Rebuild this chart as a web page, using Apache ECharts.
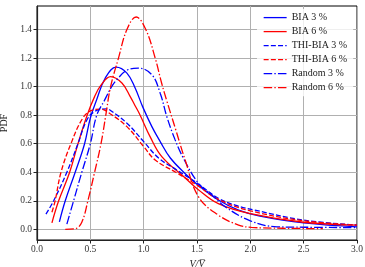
<!DOCTYPE html>
<html>
<head>
<meta charset="utf-8">
<script src="https://cdn.jsdelivr.net/npm/echarts@6/dist/echarts.min.js"></script>
<style>
	html, body { margin: 0; padding: 0; background: #fff; }
	#pdfChart { width: 365px; height: 267px; }
</style>
</head>
<body>
<div id="pdfChart"></div>
<script>
// 数据
var bia3 = [[0.21, 0.053], [0.265, 0.2], [0.358, 0.4], [0.446, 0.6], [0.5, 0.78], [0.56, 0.91], [0.64, 1.06], [0.742, 1.137], [0.843, 1.095], [0.92, 0.99], [0.99, 0.86], [1.077, 0.72], [1.155, 0.615], [1.25, 0.5], [1.39, 0.39], [1.51, 0.31], [1.7, 0.206], [1.89, 0.135], [2.09, 0.093], [2.5, 0.045], [3.0, 0.018]];
var bia6 = [[0.14, 0.046], [0.203, 0.2], [0.306, 0.4], [0.384, 0.6], [0.47, 0.8], [0.54, 0.93], [0.6, 1.01], [0.69, 1.07], [0.796, 1.025], [0.874, 0.93], [0.917, 0.87], [0.967, 0.8], [1.06, 0.65], [1.17, 0.51], [1.39, 0.36], [1.51, 0.28], [1.7, 0.18], [2.0, 0.11], [2.5, 0.05], [3.0, 0.03]];
var thi3 = [[0.084, 0.107], [0.156, 0.2], [0.28, 0.4], [0.384, 0.6], [0.47, 0.77], [0.55, 0.83], [0.655, 0.844], [0.686, 0.835], [0.843, 0.744], [1.0, 0.615], [1.14, 0.5], [1.31, 0.416], [1.5, 0.325], [1.7, 0.218], [1.857, 0.17], [2.04, 0.135], [2.5, 0.065], [3.0, 0.03]];
var thi6 = [[0.14, 0.12], [0.17, 0.2], [0.225, 0.4], [0.318, 0.6], [0.43, 0.78], [0.52, 0.835], [0.6, 0.842], [0.686, 0.81], [0.843, 0.72], [1.0, 0.58], [1.108, 0.486], [1.3, 0.4], [1.5, 0.31], [1.7, 0.21], [2.0, 0.13], [2.5, 0.06], [3.0, 0.03]];
var rnd3 = [[0.28, 0.037], [0.343, 0.2], [0.42, 0.4], [0.5, 0.6], [0.56, 0.8], [0.63, 0.9], [0.7, 1.0], [0.75, 1.05], [0.843, 1.115], [0.95, 1.13], [1.077, 1.083], [1.155, 0.954], [1.217, 0.79], [1.295, 0.627], [1.373, 0.498], [1.513, 0.323], [1.64, 0.24], [1.763, 0.159], [2.0, 0.06], [2.25, 0.018], [2.5, 0.015], [3.0, 0.012]];
var rnd6 = [[0.265, 0.0], [0.36, 0.005], [0.42, 0.05], [0.477, 0.2], [0.54, 0.4], [0.6, 0.6], [0.645, 0.8], [0.69, 1.0], [0.764, 1.2], [0.843, 1.4], [0.93, 1.488], [1.02, 1.4], [1.108, 1.2], [1.17, 1.02], [1.217, 0.9], [1.3, 0.7], [1.389, 0.486], [1.513, 0.229], [1.7, 0.1], [1.89, 0.03], [2.01, 0.014], [2.3, 0.008], [2.68, 0.005]];

var seriesNames = ['BIA 3 %', 'BIA 6 %', 'THI-BIA 3 %', 'THI-BIA 6 %', 'Random 3 %', 'Random 6 %'];
var yTicks = [0.0, 0.2, 0.4, 0.6, 0.8, 1.0, 1.2, 1.4];
var xTicks = [0.0, 0.5, 1.0, 1.5, 2.0, 2.5, 3.0];

var BLUE = '#0000ff';
var RED = '#ff0000';
var DASH = [5, 2.2];
var DASHDOT = [8.5, 2.2, 1.4, 2.2];
var FONT = '"Liberation Serif", "DejaVu Serif", serif';

function makeLine(name, data, color, type) {
	return {
		name: name,
		type: 'line',
		data: data,
		smooth: 0.4,
		symbol: 'none',
		silent: true,
		lineStyle: {
			color: color,
			width: 1.3,
			type: type
		},
		itemStyle: {
			color: color
		}
	};
}

function drawChart() {
	var chart = echarts.init(document.getElementById('pdfChart'), null, { renderer: 'canvas' });
	var option = {
		animation: false,
		backgroundColor: '#fff',
		textStyle: { fontFamily: FONT },
		grid: {
			left: 37,
			right: 8,
			top: 6,
			bottom: 27,
			show: true,
			borderColor: '#000',
			borderWidth: 1,
			outerBoundsMode: 'none',
			containLabel: false
		},
		legend: {
			orient: 'vertical',
			left: 257,
			top: 9,
			padding: [3, 6, 3, 6],
			itemWidth: 23,
			itemHeight: 14,
			itemGap: 2.8,
			backgroundColor: 'rgba(255,255,255,0.8)',
			itemStyle: { opacity: 0 },
			lineStyle: { width: 1.3 },
			textStyle: { fontFamily: FONT, fontSize: 10, color: '#222' },
			data: seriesNames
		},
		xAxis: {
			type: 'value',
			min: 0,
			max: 3,
			interval: 0.5,
			name: 'V/V\u0305',
			nameLocation: 'middle',
			nameGap: 14,
			nameTextStyle: { fontFamily: FONT, fontSize: 10, fontStyle: 'italic', color: '#222' },
			axisLine: { show: true, onZero: false, lineStyle: { color: '#222', width: 1.2 } },
			axisTick: { show: true, length: 3.5, lineStyle: { color: '#222' }, customValues: xTicks },
			axisLabel: {
				fontFamily: FONT, fontSize: 9.5, color: '#333', margin: 4,
				customValues: xTicks,
				formatter: function(v) { return v.toFixed(1); }
			},
			splitLine: { show: true, lineStyle: { color: '#b0b0b0', width: 1 } }
		},
		yAxis: {
			type: 'value',
			min: -0.0745,
			max: 1.565,
			name: 'PDF',
			nameLocation: 'middle',
			nameGap: 22,
			nameTextStyle: { fontFamily: FONT, fontSize: 10, color: '#222' },
			axisLine: { show: true, onZero: false, lineStyle: { color: '#222', width: 1.2 } },
			axisTick: { show: true, length: 3.5, lineStyle: { color: '#222' }, customValues: yTicks },
			axisLabel: {
				fontFamily: FONT, fontSize: 9.5, color: '#333', margin: 5,
				customValues: yTicks,
				formatter: function(v) { return v.toFixed(1); }
			},
			splitLine: { show: true, lineStyle: { color: '#b0b0b0', width: 1 } }
		},
		series: [
			makeLine(seriesNames[0], bia3, BLUE, 'solid'),
			makeLine(seriesNames[1], bia6, RED, 'solid'),
			makeLine(seriesNames[2], thi3, BLUE, DASH),
			makeLine(seriesNames[3], thi6, RED, DASH),
			makeLine(seriesNames[4], rnd3, BLUE, DASHDOT),
			makeLine(seriesNames[5], rnd6, RED, DASHDOT)
		]
	};
	chart.setOption(option);
}

drawChart();
</script>
</body>
</html>
